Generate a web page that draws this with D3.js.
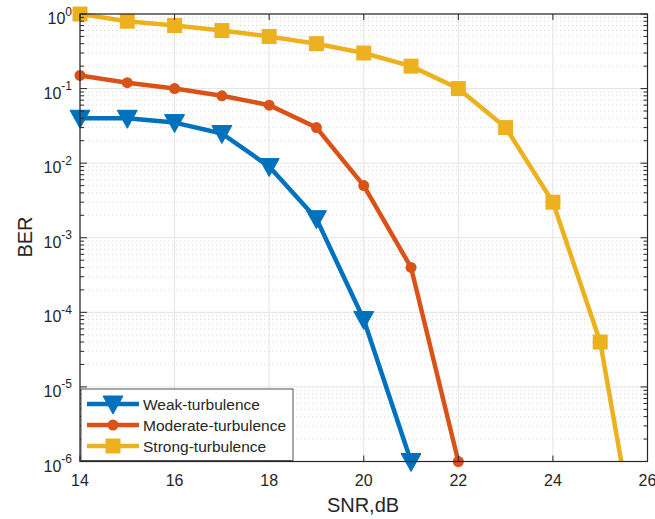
<!DOCTYPE html>
<html>
<head>
<meta charset="utf-8">
<script src="https://cdn.jsdelivr.net/npm/d3@7"></script>
<style>
  body { margin: 0; background: #fff; }
  text { font-family: "Liberation Sans", Arial, sans-serif; fill: #262626; }
</style>
</head>
<body>
<svg id="chart" width="655" height="519"></svg>
<script>
// SNR values (dB) and BER per turbulence level
const snrWeak = [14, 15, 16, 17, 18, 19, 20, 21];
const berWeak = [0.04, 0.04, 0.035, 0.025, 0.009, 0.0018, 8e-5, 1e-6];
const snrModerate = [14, 15, 16, 17, 18, 19, 20, 21, 22];
const berModerate = [0.15, 0.12, 0.1, 0.08, 0.06, 0.03, 0.005, 4e-4, 1e-6];
const snrStrong = [14, 15, 16, 17, 18, 19, 20, 21, 22, 23, 24, 25, 26];
const berStrong = [1.0, 0.8, 0.7, 0.6, 0.5, 0.4, 0.3, 0.2, 0.1, 0.03, 0.003, 4e-5, 1e-8];
const seriesNames = ["Weak-turbulence", "Moderate-turbulence", "Strong-turbulence"];
const xTicks = [14, 16, 18, 20, 22, 24, 26];
const yExponents = [0, -1, -2, -3, -4, -5, -6];

const svg = d3.select("#chart");
const pLeft = 80, pRight = 647.5, pTop = 14, pBottom = 461.5;

const x = d3.scaleLinear().domain([14, 26]).range([pLeft, pRight]);
const y = d3.scaleLog().domain([1e-6, 1]).range([pBottom, pTop]);

const axisColor = "#262626";

/* grid */
const grid = svg.append("g");
// minor horizontal grid (dotted)
for (let e = -6; e < 0; e++) {
  for (let m = 2; m <= 9; m++) {
    grid.append("line")
      .attr("x1", pLeft).attr("x2", pRight)
      .attr("y1", y(m * Math.pow(10, e))).attr("y2", y(m * Math.pow(10, e)))
      .attr("stroke", "#d9d9d9").attr("stroke-width", 1)
      .attr("stroke-dasharray", "1,3");
  }
}
// major grid
yExponents.forEach(e => {
  grid.append("line")
    .attr("x1", pLeft).attr("x2", pRight)
    .attr("y1", y(Math.pow(10, e))).attr("y2", y(Math.pow(10, e)))
    .attr("stroke", "#e3e3e3").attr("stroke-width", 1);
});
xTicks.forEach(t => {
  grid.append("line")
    .attr("x1", x(t)).attr("x2", x(t))
    .attr("y1", pTop).attr("y2", pBottom)
    .attr("stroke", "#e3e3e3").attr("stroke-width", 1);
});

/* series */
svg.append("defs").append("clipPath").attr("id", "clip")
  .append("rect").attr("x", pLeft).attr("y", pTop - 10).attr("width", pRight - pLeft).attr("height", pBottom - pTop + 10);

const series = [
  {snr: snrWeak, ber: berWeak, color: "#0072BD", marker: "tri"},
  {snr: snrModerate, ber: berModerate, color: "#D95319", marker: "circ"},
  {snr: snrStrong, ber: berStrong, color: "#EDB120", marker: "sq"}
];

const line = d3.line().x(d => x(d[0])).y(d => y(d[1]));

function drawMarker(g, type, cx, cy, color) {
  if (type === "tri") {
    g.append("path")
      .attr("d", `M${cx - 10},${cy - 8} L${cx + 10},${cy - 8} L${cx},${cy + 10} Z`)
      .attr("fill", color).attr("stroke", color).attr("stroke-width", 1);
  } else if (type === "circ") {
    g.append("circle").attr("cx", cx).attr("cy", cy).attr("r", 5.5)
      .attr("fill", color);
  } else {
    g.append("rect").attr("x", cx - 7.5).attr("y", cy - 7.5)
      .attr("width", 15).attr("height", 15).attr("fill", color);
  }
}

const plotG = svg.append("g");
series.forEach(s => {
  const pts = s.snr.map((v, i) => [v, s.ber[i]]);
  plotG.append("path")
    .attr("d", line(pts))
    .attr("clip-path", "url(#clip)")
    .attr("fill", "none").attr("stroke", s.color)
    .attr("stroke-width", 4.5).attr("stroke-linejoin", "round");
  pts.forEach(p => {
    if (p[1] >= 1e-6) drawMarker(plotG, s.marker, x(p[0]), y(p[1]), s.color);
  });
});

/* axes box and ticks */
const axG = svg.append("g");
axG.append("rect")
  .attr("x", pLeft).attr("y", pTop).attr("width", pRight - pLeft).attr("height", pBottom - pTop)
  .attr("fill", "none").attr("stroke", axisColor).attr("stroke-width", 1.2);

xTicks.forEach(t => {
  axG.append("line").attr("x1", x(t)).attr("x2", x(t)).attr("y1", pBottom).attr("y2", pBottom - 6)
    .attr("stroke", axisColor);
  axG.append("line").attr("x1", x(t)).attr("x2", x(t)).attr("y1", pTop).attr("y2", pTop + 6)
    .attr("stroke", axisColor);
  axG.append("text").attr("x", x(t)).attr("y", 486)
    .attr("text-anchor", "middle").attr("font-size", 16).text(t);
});

for (let e = -6; e < 0; e++) {
  for (let m = 2; m <= 9; m++) {
    const yy = y(m * Math.pow(10, e));
    axG.append("line").attr("x1", pLeft).attr("x2", pLeft + 4).attr("y1", yy).attr("y2", yy).attr("stroke", axisColor);
    axG.append("line").attr("x1", pRight).attr("x2", pRight - 4).attr("y1", yy).attr("y2", yy).attr("stroke", axisColor);
  }
}
yExponents.forEach(e => {
  const yy = y(Math.pow(10, e));
  axG.append("line").attr("x1", pLeft).attr("x2", pLeft + 7).attr("y1", yy).attr("y2", yy).attr("stroke", axisColor);
  axG.append("line").attr("x1", pRight).attr("x2", pRight - 7).attr("y1", yy).attr("y2", yy).attr("stroke", axisColor);
  const t = axG.append("text").attr("x", 72).attr("y", yy + 10)
    .attr("text-anchor", "end").attr("font-size", 16);
  t.append("tspan").text("10");
  t.append("tspan").attr("dy", -8.5).attr("font-size", 12).text(e === 0 ? "0" : "-" + Math.abs(e));
});

svg.append("text").attr("x", 363).attr("y", 512).attr("text-anchor", "middle")
  .attr("font-size", 20).text("SNR,dB");
svg.append("text").attr("transform", "translate(32,237) rotate(-90)")
  .attr("text-anchor", "middle").attr("font-size", 20).text("BER");

/* legend */
const lg = svg.append("g");
lg.append("rect").attr("x", 81).attr("y", 389).attr("width", 212).attr("height", 71.5)
  .attr("fill", "#fff").attr("stroke", axisColor).attr("stroke-width", 0.8);
seriesNames.forEach((name, i) => {
  const ly = 404 + i * 21;
  lg.append("line").attr("x1", 87).attr("x2", 139).attr("y1", ly).attr("y2", ly)
    .attr("stroke", series[i].color).attr("stroke-width", 4.5);
  drawMarker(lg, series[i].marker, 113, ly, series[i].color);
  lg.append("text").attr("x", 143).attr("y", ly + 5.5).attr("font-size", 15.5).text(name);
});
</script>
</body>
</html>
